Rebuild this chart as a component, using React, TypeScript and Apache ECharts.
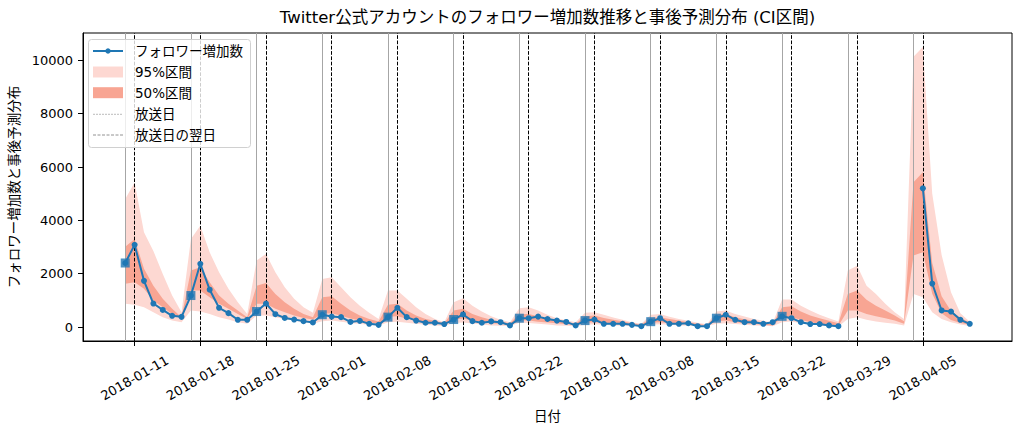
import React, { useEffect, useRef } from "react";
import * as echarts from "echarts";

const dates = [
  "2018-01-10","2018-01-11","2018-01-12","2018-01-13","2018-01-14","2018-01-15","2018-01-16",
  "2018-01-17","2018-01-18","2018-01-19","2018-01-20","2018-01-21","2018-01-22","2018-01-23",
  "2018-01-24","2018-01-25","2018-01-26","2018-01-27","2018-01-28","2018-01-29","2018-01-30",
  "2018-01-31","2018-02-01","2018-02-02","2018-02-03","2018-02-04","2018-02-05","2018-02-06",
  "2018-02-07","2018-02-08","2018-02-09","2018-02-10","2018-02-11","2018-02-12","2018-02-13",
  "2018-02-14","2018-02-15","2018-02-16","2018-02-17","2018-02-18","2018-02-19","2018-02-20",
  "2018-02-21","2018-02-22","2018-02-23","2018-02-24","2018-02-25","2018-02-26","2018-02-27",
  "2018-02-28","2018-03-01","2018-03-02","2018-03-03","2018-03-04","2018-03-05","2018-03-06",
  "2018-03-07","2018-03-08","2018-03-09","2018-03-10","2018-03-11","2018-03-12","2018-03-13",
  "2018-03-14","2018-03-15","2018-03-16","2018-03-17","2018-03-18","2018-03-19","2018-03-20",
  "2018-03-21","2018-03-22","2018-03-23","2018-03-24","2018-03-25","2018-03-26","2018-03-27",
  "2018-03-28","2018-03-29","2018-03-30","2018-03-31","2018-04-01","2018-04-02","2018-04-03",
  "2018-04-04","2018-04-05","2018-04-06","2018-04-07","2018-04-08","2018-04-09","2018-04-10",
];

const followers: (number | null)[] = [
  2400, 3080, 1730, 880, 640, 420, 380,
  1180, 2370, 1400, 720, 520, 270, 270,
  580, 880, 480, 340, 280, 220, 170,
  460, 390, 370, 190, 230, 120, 80,
  370, 720, 370, 240, 160, 160, 110,
  280, 470, 220, 160, 210, 180, 60,
  330, 330, 390, 300, 240, 190, 60,
  240, 280, 120, 120, 120, 80, 30,
  200, 330, 120, 120, 140, 30, 30,
  330, 460, 270, 180, 180, 120, 180,
  400, 330, 180, 110, 110, 60, 30,
  null, null, null, null, null, null, null,
  null, 5200, 1630, 620, 580, 270, 120,
];

const ci95Upper = [
  4800, 5420, 3550, 2850, 1990, 1180, 550,
  3300, 3800, 2800, 2050, 1430, 930, 490,
  2490, 2740, 2050, 1490, 1060, 740, 530,
  1800, 1870, 1490, 1120, 800, 530, 300,
  1370, 1370, 1060, 740, 490, 300, 180,
  930, 1080, 800, 580, 400, 270, 180,
  700, 740, 620, 460, 330, 250, 180,
  530, 550, 460, 360, 270, 180, 120,
  460, 490, 380, 300, 230, 160, 100,
  580, 620, 490, 390, 300, 230, 160,
  1030, 1030, 800, 620, 460, 330, 210,
  2120, 2300, 1550, 1240, 870, 550, 300,
  10130, 10500, 5000, 2700, 1300, 520, 200,
];

const ci95Lower = [
  870, 830, 740, 550, 370, 240, 180,
  620, 580, 490, 370, 280, 180, 120,
  430, 430, 370, 300, 240, 180, 120,
  220, 240, 200, 150, 110, 80, 50,
  180, 200, 160, 120, 80, 60, 40,
  150, 170, 130, 90, 60, 50, 40,
  160, 150, 120, 90, 60, 50, 30,
  80, 100, 80, 60, 50, 40, 30,
  80, 100, 80, 60, 50, 40, 30,
  120, 140, 110, 80, 60, 50, 30,
  180, 210, 140, 100, 60, 40, 20,
  300, 370, 270, 210, 160, 120, 60,
  1240, 1120, 550, 300, 180, 90, 40,
];

const ci50Upper = [
  3010, 3300, 2180, 1550, 1060, 680, 370,
  2120, 2240, 1680, 1180, 870, 620, 370,
  1550, 1650, 1240, 930, 680, 490, 370,
  1120, 1150, 870, 620, 430, 300, 210,
  830, 870, 620, 430, 300, 230, 140,
  620, 680, 490, 370, 270, 200, 140,
  490, 490, 400, 300, 230, 170, 120,
  400, 430, 340, 270, 220, 140, 90,
  330, 370, 300, 240, 180, 120, 70,
  460, 490, 370, 290, 230, 170, 120,
  740, 780, 580, 430, 330, 230, 140,
  1240, 1370, 1020, 800, 620, 430, 220,
  5430, 5800, 2400, 1150, 600, 350, 170,
];

const ci50Lower = [
  1620, 1680, 1430, 990, 740, 490, 300,
  1370, 1370, 1120, 870, 680, 490, 300,
  870, 870, 680, 550, 430, 340, 280,
  500, 520, 420, 320, 240, 170, 120,
  380, 400, 320, 240, 170, 130, 90,
  280, 320, 240, 180, 140, 110, 80,
  240, 240, 200, 170, 140, 100, 70,
  160, 180, 140, 120, 100, 70, 50,
  160, 180, 140, 120, 100, 70, 50,
  220, 240, 180, 140, 110, 80, 60,
  370, 370, 270, 180, 120, 70, 50,
  620, 620, 490, 400, 330, 240, 120,
  2680, 2800, 1250, 520, 260, 150, 80,
];

const broadcastDays = [
  "2018-01-10","2018-01-17","2018-01-24","2018-01-31","2018-02-07","2018-02-14","2018-02-21",
  "2018-02-28","2018-03-07","2018-03-14","2018-03-21","2018-03-28","2018-04-04",
];
const nextDays = [
  "2018-01-11","2018-01-18","2018-01-25","2018-02-01","2018-02-08","2018-02-15","2018-02-22",
  "2018-03-01","2018-03-08","2018-03-15","2018-03-22","2018-03-29","2018-04-05",
];

const xTickLabels = [
  "2018-01-11","2018-01-18","2018-01-25","2018-02-01","2018-02-08","2018-02-15","2018-02-22",
  "2018-03-01","2018-03-08","2018-03-15","2018-03-22","2018-03-29","2018-04-05",
];
const yTicks = [0, 2000, 4000, 6000, 8000, 10000];

const DAY = 86400000;
const ORIGIN = Date.UTC(2018, 0, 11);
const toX = (d: string) => (Date.parse(d + "T00:00:00Z") - ORIGIN) / DAY;
const fromX = (x: number) => new Date(ORIGIN + Math.round(x) * DAY).toISOString().slice(0, 10);

const FONT = "'DejaVu Sans', 'Noto Sans CJK JP', sans-serif";
const BLUE = "#1f77b4";
const LIGHT = "#fdd8d2";
const DARK = "#f8a593";

function bandSeries(name: string, lower: number[], upper: number[], color: string, z: number) {
  return {
    type: "custom",
    name,
    z,
    silent: true,
    clip: true,
    data: dates.map((d, i) => [toX(d), lower[i], upper[i]]),
    encode: { x: 0, y: [1, 2] },
    renderItem: (params: any, api: any) => {
      if (params.dataIndexInside !== 0) return null;
      const n = params.dataInsideLength ?? dates.length;
      const top: number[][] = [];
      const bottom: number[][] = [];
      for (let j = 0; j < n; j++) {
        const x = api.value(0, j);
        top.push(api.coord([x, api.value(2, j)]));
        bottom.push(api.coord([x, api.value(1, j)]));
      }
      return {
        type: "polygon",
        shape: { points: top.concat(bottom.reverse()) },
        style: { fill: color, stroke: "none" },
      };
    },
  };
}

export default function App() {
  const ref = useRef<HTMLDivElement>(null);
  useEffect(() => {
    document.body.style.margin = "0";
    const chart = echarts.init(ref.current!, null, { renderer: "svg" });
    const lineData = dates.map((d, i) => [toX(d), followers[i] === null ? "-" : followers[i]]);
    const squareData = broadcastDays
      .map((d) => [toX(d), followers[dates.indexOf(d)]])
      .filter((p) => p[1] !== null && p[1] !== undefined);
    const vLines = [
      ...broadcastDays.map((d) => ({
        xAxis: toX(d),
        lineStyle: { color: "#a6a6a6", width: 1, type: "solid" },
      })),
      ...nextDays.map((d) => ({
        xAxis: toX(d),
        lineStyle: { color: "#000", width: 1, type: [3.7, 1.6] },
      })),
    ];
    const legendRows = [51, 72, 92.7, 114.3, 135];
    const legendText = (y: number, text: string) => ({
      type: "text",
      x: 135,
      y,
      z: 101,
      style: { text, fill: "#000", fontSize: 13.5, fontFamily: FONT, verticalAlign: "middle", align: "left" },
    });
    chart.setOption({
      animation: false,
      backgroundColor: "#fff",
      grid: {
        left: 83, right: 10, top: 33, bottom: 91,
        show: true, borderColor: "#000", borderWidth: 1, backgroundColor: "transparent",
        containLabel: false, outerBoundsMode: "none",
      },
      xAxis: {
        type: "value",
        min: -5.5,
        max: 93.5,
        name: "日付",
        nameLocation: "middle",
        nameGap: 66,
        nameTextStyle: { fontSize: 13.5, color: "#000", fontFamily: FONT },
        splitLine: { show: false },
        axisLine: { show: true, onZero: false, lineStyle: { color: "#000", width: 1 } },
        axisTick: {
          show: true, length: 5, customValues: xTickLabels.map(toX),
          lineStyle: { color: "#000", width: 1 },
        },
        axisLabel: {
          customValues: xTickLabels.map(toX),
          formatter: (v: number) => fromX(v),
          rotate: 30,
          align: "center",
          verticalAlign: "middle",
          margin: 37,
          fontSize: 13,
          color: "#000",
          fontFamily: FONT,
        },
      },
      yAxis: {
        type: "value",
        min: -525,
        max: 11025,
        name: "フォロワー増加数と事後予測分布",
        nameLocation: "middle",
        nameGap: 50,
        nameTextStyle: { fontSize: 13.5, color: "#000", fontFamily: FONT },
        splitLine: { show: false },
        axisLine: { show: true, onZero: false, lineStyle: { color: "#000", width: 1 } },
        axisTick: {
          show: true, length: 5, customValues: yTicks,
          lineStyle: { color: "#000", width: 1 },
        },
        axisLabel: {
          customValues: yTicks,
          formatter: (v: number) => String(v),
          margin: 10,
          fontSize: 13,
          color: "#000",
          fontFamily: FONT,
        },
      },
      series: [
        bandSeries("95%区間", ci95Lower, ci95Upper, LIGHT, 1),
        bandSeries("50%区間", ci50Lower, ci50Upper, DARK, 2),
        {
          type: "line",
          name: "vlines",
          data: [],
          z: 3,
          silent: true,
          markLine: {
            silent: true,
            symbol: ["none", "none"],
            label: { show: false },
            emphasis: { disabled: true },
            animation: false,
            data: vLines,
          },
        },
        {
          type: "line",
          name: "フォロワー増加数",
          data: lineData,
          z: 5,
          connectNulls: false,
          symbol: "circle",
          symbolSize: 6,
          showSymbol: true,
          showAllSymbol: true,
          lineStyle: { color: BLUE, width: 2 },
          itemStyle: { color: BLUE },
          emphasis: { disabled: true },
        },
        {
          type: "scatter",
          name: "放送日の値",
          data: squareData,
          z: 6,
          symbol: "rect",
          symbolSize: 9,
          itemStyle: { color: BLUE },
          emphasis: { disabled: true },
        },
      ],
      graphic: [
        {
          type: "text",
          x: 547.5,
          y: 17,
          style: {
            text: "Twitter公式アカウントのフォロワー増加数推移と事後予測分布 (CI区間)",
            fill: "#000", fontSize: 16.5, fontFamily: FONT, align: "center", verticalAlign: "middle",
          },
        },
        {
          type: "rect",
          z: 100,
          shape: { x: 88.5, y: 39.5, width: 162, height: 108, r: 3 },
          style: { fill: "rgba(255,255,255,0.8)", stroke: "#d0d0d0", lineWidth: 1 },
        },
        { type: "line", z: 101, shape: { x1: 93, y1: legendRows[0], x2: 123, y2: legendRows[0] }, style: { stroke: BLUE, lineWidth: 2 } },
        { type: "circle", z: 101, shape: { cx: 108, cy: legendRows[0], r: 2.7 }, style: { fill: BLUE } },
        legendText(legendRows[0], "フォロワー増加数"),
        { type: "rect", z: 101, shape: { x: 93, y: legendRows[1] - 5.5, width: 30, height: 11 }, style: { fill: LIGHT } },
        legendText(legendRows[1], "95%区間"),
        { type: "rect", z: 101, shape: { x: 93, y: legendRows[2] - 5.5, width: 30, height: 11 }, style: { fill: DARK } },
        legendText(legendRows[2], "50%区間"),
        { type: "line", z: 101, shape: { x1: 93, y1: legendRows[3], x2: 123, y2: legendRows[3] }, style: { stroke: "#aaaaaa", lineWidth: 0.8, lineDash: [2, 1] } },
        legendText(legendRows[3], "放送日"),
        { type: "line", z: 101, shape: { x1: 93, y1: legendRows[4], x2: 123, y2: legendRows[4] }, style: { stroke: "#777777", lineWidth: 0.8, lineDash: [3, 1.5] } },
        legendText(legendRows[4], "放送日の翌日"),
      ],
    });
    return () => chart.dispose();
  }, []);
  return <div ref={ref} style={{ width: 1022, height: 432 }} />;
}
